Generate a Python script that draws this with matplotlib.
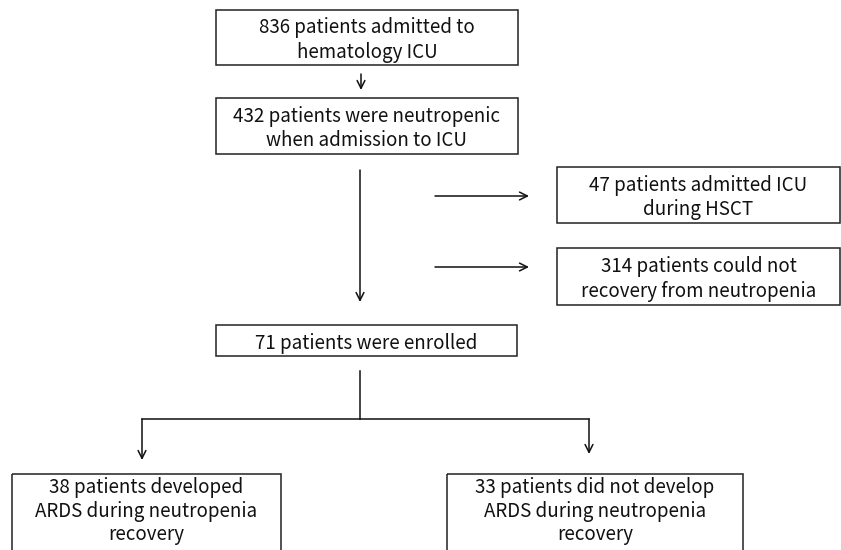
import matplotlib.pyplot as plt
from matplotlib.patches import Rectangle

plt.rcParams['font.family'] = ['Noto Sans CJK KR', 'DejaVu Sans']

# box texts
labels = [
    "836 patients admitted to\nhematology ICU",
    "432 patients were neutropenic\nwhen admission to ICU",
    "47 patients admitted ICU\nduring HSCT",
    "314 patients could not\nrecovery from neutropenia",
    "71 patients were enrolled",
    "38 patients developed\nARDS during neutropenia\nrecovery",
    "33 patients did not develop\nARDS during neutropenia\nrecovery",
]

# box layout in pixels: x0, y0, x1, y1
boxes = [
    (216, 10, 518, 65),
    (216, 98, 518, 154),
    (557, 167, 840, 223),
    (557, 248, 840, 305),
    (216, 325, 517, 356),
    (12, 474, 281, 560),
    (447, 474, 743, 560),
]

fig = plt.figure(figsize=(8.41, 5.5), dpi=100)
ax = fig.add_axes([0, 0, 1, 1])
ax.set_xlim(0, 841)
ax.set_ylim(550, 0)
ax.axis('off')

for (x0, y0, x1, y1), txt in zip(boxes, labels):
    ax.add_patch(Rectangle((x0, y0), x1 - x0, y1 - y0, fill=False,
                           edgecolor='#222222', linewidth=1.1))
    # bottom boxes are cut off by the image edge
    if y1 > 550:
        ax.text((x0 + x1) / 2, 545, txt, ha='center', va='bottom',
                fontsize=13.5, linespacing=1.15, color='#111111')
    else:
        ax.text((x0 + x1) / 2, (y0 + y1) / 2 + 2.5, txt, ha='center',
                va='center', fontsize=13.5, linespacing=1.2, color='#111111')

arrow = dict(arrowstyle='->', color='#111111', lw=1.1, mutation_scale=14,
             shrinkA=0, shrinkB=0)


def arr(x0, y0, x1, y1):
    ax.annotate('', xy=(x1, y1), xytext=(x0, y0), arrowprops=arrow)


arr(361, 74, 361, 90)
arr(360, 170, 360, 302)
arr(435, 196, 529, 196)
arr(435, 267, 529, 267)

ax.plot([360, 360], [371, 419], color='#111111', lw=1.1)
ax.plot([142, 589], [419, 419], color='#111111', lw=1.1)
arr(142, 419, 142, 460)
arr(589, 419, 589, 454)

fig.savefig('out.png', dpi=100)
